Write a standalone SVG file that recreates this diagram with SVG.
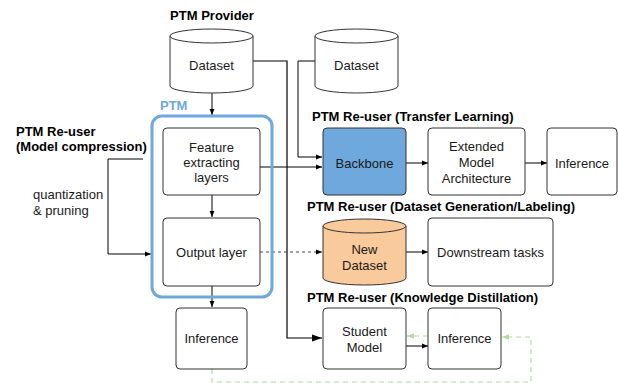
<svg xmlns="http://www.w3.org/2000/svg" width="618" height="383" viewBox="0 0 618 383">
<defs>
<style>
text{font-family:"Liberation Sans",Arial,sans-serif;font-size:13px;fill:#1a1a1a}
.b{font-weight:bold;fill:#000}
.c{text-anchor:middle}
.box{fill:#fff;stroke:#333;stroke-width:1}
.ln{fill:none;stroke:#000;stroke-width:1}
.gr{fill:none;stroke:#b6d7a8;stroke-width:1.2;stroke-dasharray:5,4}
</style>
<marker id="a" viewBox="0 0 10 10" refX="10" refY="5" markerWidth="6" markerHeight="6" orient="auto" markerUnits="userSpaceOnUse"><path d="M0,1 L10,5 L0,9 z" fill="#000"/></marker>
<marker id="ab" viewBox="0 0 10 10" refX="10" refY="5" markerWidth="10" markerHeight="10" orient="auto" markerUnits="userSpaceOnUse"><path d="M0,1.5 L10,5 L0,8.5 z" fill="#000"/></marker>
<marker id="ag" viewBox="0 0 10 10" refX="10" refY="5" markerWidth="7" markerHeight="7" orient="auto" markerUnits="userSpaceOnUse"><path d="M0,1 L10,5 L0,9 z" fill="#b6d7a8"/></marker>
</defs>
<rect width="618" height="383" fill="#fff"/>

<g id="labels">
<text class="b c" x="212" y="20">PTM Provider</text>
<text class="b" x="160" y="110" style="fill:#6fa8dc">PTM</text>
<text class="b" x="16" y="136">PTM Re-user</text>
<text class="b" x="16" y="151">(Model compression)</text>
<text x="33" y="199">quantization</text>
<text x="33" y="215">&amp; pruning</text>
<text class="b" x="312" y="121">PTM Re-user (Transfer Learning)</text>
<text class="b" x="307" y="211">PTM Re-user (Dataset Generation/Labeling)</text>
<text class="b" x="307" y="302">PTM Re-user (Knowledge Distillation)</text>
</g>

<g id="connectors">
<path class="ln" d="M212,93 V115" marker-end="url(#a)"/>
<path class="ln" d="M212,195 V217" marker-end="url(#a)"/>
<path class="ln" d="M212,286 V307" marker-end="url(#a)"/>
<path class="ln" d="M143,159 H108 V254 H151" marker-end="url(#a)"/>
<path class="ln" d="M253,61 H287 V338 H322" style="stroke-width:1.2" marker-end="url(#ab)"/>
<path class="ln" d="M315,61 H298 V157 H322" marker-end="url(#a)"/>
<path class="ln" d="M260,167 H322" marker-end="url(#a)"/>
<path class="ln" d="M406,163 H428" marker-end="url(#a)"/>
<path class="ln" d="M525,163 H547" marker-end="url(#a)"/>
<path class="ln" d="M260,252 H322" style="stroke:#444;stroke-dasharray:3,3" marker-end="url(#a)"/>
<path class="ln" d="M406,252 H428" marker-end="url(#a)"/>
<path class="ln" d="M406,346 H428" marker-end="url(#a)"/>
<path class="gr" d="M428,336 H407" marker-end="url(#ag)"/>
<path class="gr" d="M212,369 V382 H531 V337 H502" marker-end="url(#ag)"/>
</g>

<g id="ptm">
<rect x="152" y="116" width="120" height="181" rx="10" fill="none" stroke="#6fa8dc" stroke-width="3"/>
</g>

<g id="dataset1">
<path class="box" d="M170,36 V86 A41.5,7 0 0 0 253,86 V36"/>
<ellipse class="box" cx="211.5" cy="36" rx="41.5" ry="7"/>
<text class="c" x="211.5" y="70">Dataset</text>
</g>

<g id="feature">
<rect class="box" x="163" y="128" width="97" height="67" rx="4"/>
<text class="c" x="211.5" y="152">Feature</text>
<text class="c" x="211.5" y="167">extracting</text>
<text class="c" x="211.5" y="182">layers</text>
</g>

<g id="output">
<rect class="box" x="163" y="218" width="97" height="68" rx="4"/>
<text class="c" x="211.5" y="257">Output layer</text>
</g>

<g id="inference1">
<rect class="box" x="176" y="308" width="71" height="61" rx="4"/>
<text class="c" x="211.5" y="343">Inference</text>
</g>

<g id="dataset2">
<path class="box" d="M315,36 V86 A41.5,7 0 0 0 398,86 V36"/>
<ellipse class="box" cx="356.5" cy="36" rx="41.5" ry="7"/>
<text class="c" x="356.5" y="70">Dataset</text>
</g>

<g id="backbone">
<rect x="323" y="128" width="83" height="67" rx="4" fill="#6fa8dc" stroke="#333"/>
<text class="c" x="364.5" y="168">Backbone</text>
</g>

<g id="extended">
<rect class="box" x="428" y="128" width="97" height="67" rx="4"/>
<text class="c" x="476.5" y="151">Extended</text>
<text class="c" x="476.5" y="167">Model</text>
<text class="c" x="476.5" y="183">Architecture</text>
</g>

<g id="inference2">
<rect class="box" x="547" y="128" width="70" height="67" rx="4"/>
<text class="c" x="582" y="168">Inference</text>
</g>

<g id="newdataset">
<path d="M323,226 V278 A41.5,7 0 0 0 406,278 V226" fill="#f9cb9c" stroke="#333"/>
<ellipse cx="364.5" cy="226" rx="41.5" ry="7" fill="#f9cb9c" stroke="#333"/>
<text class="c" x="364.5" y="254">New</text>
<text class="c" x="364.5" y="270">Dataset</text>
</g>

<g id="downstream">
<rect class="box" x="428" y="218" width="125" height="68" rx="4"/>
<text class="c" x="490.5" y="257">Downstream tasks</text>
</g>

<g id="student">
<rect class="box" x="323" y="308" width="83" height="61" rx="4"/>
<text class="c" x="364.5" y="336">Student</text>
<text class="c" x="364.5" y="352">Model</text>
</g>

<g id="inference3">
<rect class="box" x="428" y="308" width="73" height="61" rx="4"/>
<text class="c" x="464.5" y="343">Inference</text>
</g>
</svg>
